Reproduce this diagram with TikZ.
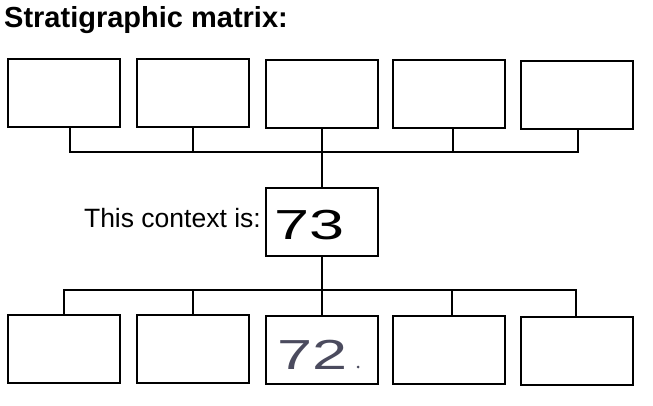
\documentclass[tikz,border=0pt]{standalone}
\usepackage{fontspec}
\setmainfont{Liberation Sans}
\begin{document}
\begin{tikzpicture}[x=1pt,y=-1pt,
  cbox/.style={draw=black,line width=2pt,minimum width=112pt,minimum height=68pt,inner sep=0pt,fill=white},
  link/.style={draw=black,line width=2pt},
  hand/.style={font=\fontsize{42}{42}\selectfont,inner sep=0pt,xscale=1.5}]
\useasboundingbox (0,0) rectangle (653,406);
\fill[white] (0,0) rectangle (653,406);
\node[anchor=base west,inner sep=0pt,font=\fontsize{29}{30}\selectfont\bfseries] (title) at (4,27.5) {Stratigraphic matrix:};
% top row
\node[cbox] (t1) at (64,93) {};
\node[cbox] (t2) at (193,93) {};
\node[cbox] (t3) at (322,94) {};
\node[cbox] (t4) at (449,94) {};
\node[cbox] (t5) at (577,95) {};
% middle
\node[cbox] (m) at (322,222) {};
\node[hand,anchor=center] (mval) at (310,225) {73};
\node[anchor=base east,inner sep=0pt,font=\fontsize{26.5}{27}\selectfont] (lab) at (261,227) {This context is:};
% bottom row
\node[cbox] (b1) at (64,349) {};
\node[cbox] (b2) at (193,349) {};
\node[cbox] (b3) at (322,350) {};
\node[cbox] (b4) at (449,350) {};
\node[cbox] (b5) at (577,351) {};
\node[hand,anchor=center,text={rgb,255:red,75;green,75;blue,94}] (bval) at (313,355) {72};
\node[inner sep=0pt,circle,fill={rgb,255:red,75;green,75;blue,94},minimum size=3pt] (bdot) at (358,367) {};
% top bus
\coordinate (ta1) at (70,152);
\coordinate (ta2) at (193,152);
\coordinate (ta3) at (322,152);
\coordinate (ta4) at (453,152);
\coordinate (ta5) at (578,152);
\draw[link] (t1.south -| ta1) -- (ta1) -- (ta5) -- (t5.south -| ta5);
\draw[link] (t2.south -| ta2) -- (ta2);
\draw[link] (t3.south -| ta3) -- (m.north -| ta3);
\draw[link] (t4.south -| ta4) -- (ta4);
% bottom bus
\coordinate (ba1) at (64,290);
\coordinate (ba2) at (193,290);
\coordinate (ba3) at (322,290);
\coordinate (ba4) at (452,290);
\coordinate (ba5) at (576,290);
\draw[link] (b1.north -| ba1) -- (ba1) -- (ba5) -- (b5.north -| ba5);
\draw[link] (b2.north -| ba2) -- (ba2);
\draw[link] (m.south -| ba3) -- (b3.north -| ba3);
\draw[link] (b4.north -| ba4) -- (ba4);
\end{tikzpicture}
\end{document}
